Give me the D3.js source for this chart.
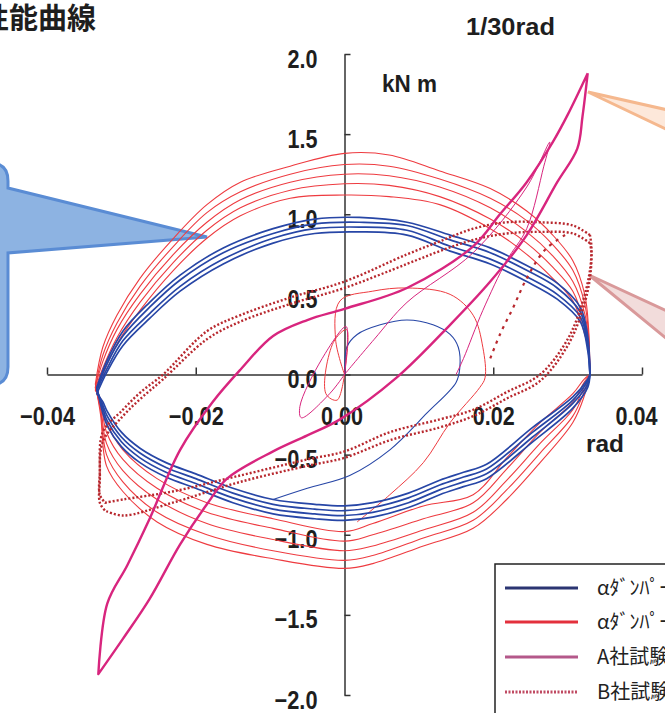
<!DOCTYPE html>
<html>
<head>
<meta charset="utf-8">
<script src="https://cdn.jsdelivr.net/npm/d3@7"></script>
<style>
body { margin: 0; background: #fff; }
svg { display: block; }
.lbl { font-family: "Liberation Sans", Arial, sans-serif; font-weight: bold; fill: #1e1e1e; }
.axis path, .axis line { stroke: #333; stroke-width: 1.5; }
</style>
</head>
<body>
<script>
// picture size
let W = 665, H = 713;

// tick values
let xTicks = [-0.04, -0.02, 0.00, 0.02, 0.04];
let yTicks = [-2.0, -1.5, -1.0, -0.5, 0.0, 0.5, 1.0, 1.5, 2.0];

// legend entries
let legendNames = ["αﾀﾞﾝﾊﾟｰ", "αﾀﾞﾝﾊﾟｰ", "A社試験体", "B社試験体"];

// --- αダンパー (blue) : branch x positions (rad) and moment per cycle (kN m)
let blueUpperX = [0.0330, 0.0327, 0.0317, 0.0286, 0.0245, 0.0196, 0.0142, 0.0084, 0.0020, -0.0040, -0.0096, -0.0163, -0.0221, -0.0262, -0.0298, -0.0320, -0.0333];
let blueLowerX = [-0.0333, -0.0325, -0.0319, -0.0300, -0.0275, -0.0240, -0.0200, -0.0150, -0.0096, -0.0040, 0.0000, 0.0038, 0.0086, 0.0128, 0.0160, 0.0191, 0.0253, 0.0307, 0.0327, 0.0330];
let blueUpperY = [
  [0.00, 0.24, 0.42, 0.57, 0.68, 0.79, 0.87, 0.95, 0.98, 0.97, 0.91, 0.79, 0.62, 0.45, 0.27, 0.08, -0.08],
  [0.00, 0.21, 0.39, 0.54, 0.65, 0.76, 0.84, 0.93, 0.95, 0.94, 0.88, 0.76, 0.59, 0.42, 0.24, 0.06, -0.09],
  [0.00, 0.18, 0.36, 0.50, 0.61, 0.72, 0.80, 0.90, 0.92, 0.91, 0.85, 0.72, 0.55, 0.38, 0.21, 0.03, -0.10],
  [0.00, 0.15, 0.33, 0.47, 0.58, 0.69, 0.77, 0.87, 0.89, 0.88, 0.82, 0.69, 0.52, 0.35, 0.18, 0.01, -0.12]
];
let blueLowerY = [
  [-0.08, -0.24, -0.32, -0.45, -0.55, -0.64, -0.71, -0.80, -0.87, -0.90, -0.91, -0.89, -0.83, -0.75, -0.70, -0.65, -0.42, -0.21, -0.08, 0.00],
  [-0.09, -0.21, -0.29, -0.42, -0.52, -0.61, -0.68, -0.77, -0.84, -0.87, -0.88, -0.86, -0.80, -0.72, -0.67, -0.62, -0.39, -0.18, -0.06, 0.00],
  [-0.10, -0.19, -0.26, -0.39, -0.49, -0.58, -0.65, -0.74, -0.81, -0.84, -0.85, -0.83, -0.77, -0.69, -0.64, -0.59, -0.36, -0.16, -0.04, 0.00],
  [-0.12, -0.17, -0.23, -0.36, -0.46, -0.55, -0.62, -0.71, -0.78, -0.81, -0.82, -0.80, -0.74, -0.66, -0.61, -0.56, -0.33, -0.14, -0.03, 0.00]
];
// first (thin) blue cycle from the origin
let blueFirstX = [0.0001, 0.0003, 0.0017, 0.0048, 0.0084, 0.0119, 0.0142, 0.0153, 0.0155, 0.0150, 0.0111, 0.0061, 0.0007, -0.0050, -0.0096];
let blueFirstY = [0.00, 0.17, 0.25, 0.31, 0.34, 0.31, 0.25, 0.17, 0.04, -0.05, -0.24, -0.47, -0.63, -0.71, -0.78];

// --- αダンパー (red)
let redUpperX = [0.0330, 0.0328, 0.0323, 0.0307, 0.0280, 0.0245, 0.0196, 0.0128, 0.0060, 0.0000, -0.0073, -0.0140, -0.0185, -0.0230, -0.0275, -0.0306, -0.0325, -0.0335];
let redLowerX = [-0.0335, -0.0328, -0.0320, -0.0298, -0.0252, -0.0185, -0.0096, 0.0000, 0.0038, 0.0106, 0.0173, 0.0218, 0.0263, 0.0307, 0.0322, 0.0330];
let redUpperY = [
  [0.00, 0.30, 0.50, 0.71, 0.87, 1.02, 1.16, 1.27, 1.37, 1.38, 1.30, 1.20, 1.06, 0.85, 0.60, 0.37, 0.17, -0.06],
  [0.00, 0.26, 0.44, 0.65, 0.81, 0.96, 1.10, 1.22, 1.30, 1.31, 1.25, 1.14, 1.01, 0.80, 0.55, 0.32, 0.12, -0.08],
  [0.00, 0.22, 0.38, 0.58, 0.74, 0.89, 1.04, 1.17, 1.24, 1.25, 1.20, 1.09, 0.95, 0.75, 0.50, 0.28, 0.08, -0.08],
  [0.00, 0.18, 0.31, 0.52, 0.67, 0.82, 0.97, 1.11, 1.18, 1.19, 1.15, 1.04, 0.90, 0.70, 0.45, 0.23, 0.04, -0.09],
  [0.00, 0.15, 0.25, 0.46, 0.60, 0.75, 0.91, 1.06, 1.11, 1.12, 1.10, 0.99, 0.85, 0.65, 0.40, 0.19, 0.00, -0.10]
];
let redLowerY = [
  [-0.06, -0.25, -0.57, -0.73, -0.92, -1.06, -1.15, -1.21, -1.18, -1.07, -0.96, -0.78, -0.55, -0.30, -0.14, 0.00],
  [-0.08, -0.22, -0.50, -0.67, -0.86, -1.00, -1.10, -1.16, -1.13, -1.02, -0.91, -0.72, -0.49, -0.26, -0.11, 0.00],
  [-0.08, -0.20, -0.43, -0.60, -0.78, -0.93, -1.03, -1.10, -1.07, -0.97, -0.86, -0.66, -0.43, -0.22, -0.08, 0.00],
  [-0.09, -0.17, -0.36, -0.53, -0.71, -0.86, -0.96, -1.04, -1.00, -0.90, -0.80, -0.59, -0.36, -0.17, -0.05, 0.00],
  [-0.10, -0.15, -0.30, -0.47, -0.65, -0.80, -0.90, -0.98, -0.93, -0.82, -0.75, -0.52, -0.30, -0.12, -0.03, 0.00]
];
let redFirstX = [0.0000, -0.0012, -0.0006, 0.0038, 0.0084, 0.0142, 0.0173, 0.0186, 0.0189, 0.0182, 0.0142, 0.0106, 0.0061, 0.0017];
let redFirstY = [0.00, 0.22, 0.46, 0.52, 0.54, 0.50, 0.37, 0.17, -0.02, -0.08, -0.30, -0.55, -0.75, -0.92];
let redSmallX = [0.0000, 0.0003, -0.0015, -0.0025, -0.0010, 0.0000];
let redSmallY = [0.00, 0.28, 0.20, -0.12, -0.16, 0.00];

// --- A社試験体 (magenta)
let aUpperX = [0.0327, 0.0300, 0.0280, 0.0245, 0.0209, 0.0173, 0.0084, 0.0000, -0.0050, -0.0096, -0.0140, -0.0177, -0.0221, -0.0262, -0.0292, -0.0319, -0.0331];
let aUpperY = [1.88, 1.62, 1.45, 1.20, 1.00, 0.80, 0.54, 0.41, 0.34, 0.24, 0.03, -0.17, -0.47, -0.90, -1.19, -1.43, -1.87];
let aLowerX = [-0.0331, -0.0298, -0.0262, -0.0221, -0.0185, -0.0158, -0.0096, -0.0050, -0.0006, 0.0070, 0.0142, 0.0196, 0.0245, 0.0286, 0.0313, 0.0320, 0.0327];
let aLowerY = [-1.87, -1.65, -1.40, -1.06, -0.81, -0.65, -0.48, -0.38, -0.28, -0.02, 0.31, 0.58, 0.87, 1.20, 1.41, 1.61, 1.88];
let aFirstX = [0.0000, 0.0040, 0.0084, 0.0173, 0.0245, 0.0276, 0.0268, 0.0245, 0.0218, 0.0186, 0.0160, 0.0150];
let aFirstY = [0.00, 0.22, 0.45, 0.76, 1.17, 1.45, 1.30, 0.91, 0.71, 0.40, 0.10, 0.00];
let aSmallX = [0.0000, 0.0004, 0.0002, -0.0030, -0.0060, -0.0058, -0.0020, 0.0000];
let aSmallY = [0.00, 0.22, 0.30, 0.10, -0.20, -0.27, -0.12, 0.00];

// --- B社試験体 (dotted)
let bUpperX = [0.0330, 0.0307, 0.0263, 0.0218, 0.0173, 0.0128, 0.0084, 0.0000, -0.0073, -0.0140, -0.0185, -0.0244, -0.0274, -0.0298, -0.0325, -0.0329, -0.0329, -0.0322];
let bLowerX = [-0.0322, -0.0298, -0.0231, -0.0140, -0.0050, 0.0000, 0.0061, 0.0128, 0.0173, 0.0218, 0.0263, 0.0300, 0.0320, 0.0330, 0.0332, 0.0330];
let bUpperY = [
  [0.87, 0.93, 0.95, 0.95, 0.91, 0.83, 0.75, 0.58, 0.48, 0.37, 0.27, 0.00, -0.11, -0.22, -0.36, -0.61, -0.75, -0.80],
  [0.82, 0.88, 0.89, 0.88, 0.84, 0.77, 0.69, 0.54, 0.44, 0.33, 0.22, -0.03, -0.15, -0.26, -0.42, -0.66, -0.80, -0.85]
];
let bLowerY = [
  [-0.80, -0.78, -0.73, -0.63, -0.53, -0.48, -0.36, -0.28, -0.22, -0.11, 0.00, 0.22, 0.45, 0.65, 0.80, 0.87],
  [-0.85, -0.88, -0.80, -0.67, -0.57, -0.52, -0.41, -0.33, -0.26, -0.15, -0.04, 0.18, 0.40, 0.60, 0.76, 0.82]
];
let bFirstX = [0.0196, 0.0209, 0.0227, 0.0245, 0.0270, 0.0300];
let bFirstY = [0.10, 0.25, 0.42, 0.60, 0.78, 0.88];

// colours
let cBlue = "#2746a6", cRed = "#ee3b40", cMag = "#d8257e", cDot = "#b8282e";
let legendColors = ["#2b3572", "#e3303c", "#b4588a", "#c04a62"];

// scales
let x = d3.scaleLinear().domain([-0.04, 0.04]).range([47, 642]);
let y = d3.scaleLinear().domain([-2, 2]).range([695, 54]);

let svg = d3.select("body").append("svg")
  .attr("width", W)
  .attr("height", H);

// helpers
let zip = (xs, ys) => xs.map((v, i) => [v, ys[i]]);
let line = d3.line()
  .x(d => x(d[0]))
  .y(d => y(d[1]))
  .curve(d3.curveCatmullRom.alpha(0.5));

function drawPath(pts, color, w, dash) {
  let p = svg.append("path")
    .attr("d", line(pts))
    .attr("fill", "none")
    .attr("stroke", color)
    .attr("stroke-width", w)
    .attr("stroke-linejoin", "round");
  if (dash) p.attr("stroke-dasharray", dash);
  return p;
}

// the tick font is narrow and tall: squeeze each label to its width in the picture
function labelWidth(s) {
  let w = 0;
  for (let ch of s) w += ch === "." ? 6 : (ch === "−" || ch === "-") ? 13 : 12;
  return w;
}

// callouts
svg.append("path")
  .attr("d", "M-40,163 H-10 Q8,163 8,181 V188 L207,237 L8,253 V367 Q8,385 -10,385 H-40 Z")
  .attr("fill", "#8db3e2").attr("stroke", "#5a8cd4").attr("stroke-width", 3);
svg.append("path")
  .attr("d", "M712,120 L588,92 L712,151")
  .attr("fill", "#fde8da").attr("stroke", "#f5b88e").attr("stroke-width", 3);
svg.append("path")
  .attr("d", "M712,332 L589,275 L712,376")
  .attr("fill", "#f2dcdb").attr("stroke", "#d9999a").attr("stroke-width", 3);

// axes
let xAxis = d3.axisBottom(x).tickValues(xTicks).tickFormat(d3.format(".2f"))
  .tickSizeInner(-7).tickSizeOuter(0).tickPadding(33);
let yAxis = d3.axisLeft(y).tickValues(yTicks).tickFormat(d3.format(".1f"))
  .tickSizeInner(-6).tickSizeOuter(0).tickPadding(27);

let gx = svg.append("g").attr("class", "axis")
  .attr("transform", "translate(0," + y(0) + ")")
  .call(xAxis);
let gy = svg.append("g").attr("class", "axis")
  .attr("transform", "translate(" + x(0) + ",0)")
  .call(yAxis);
[gx, gy].forEach(g => g.selectAll("text")
  .attr("class", "lbl")
  .style("font-size", "25px")
  .attr("fill", "#1e1e1e")
  .attr("lengthAdjust", "spacingAndGlyphs")
  .attr("textLength", function() { return labelWidth(this.textContent); }));
gy.selectAll("text").attr("dy", "0.52em");
// keep the last x label inside the picture
gx.selectAll("text").filter(d => d === 0.04).attr("dx", -6);
gx.selectAll("text").filter(d => d === 0).attr("dx", -3);

// red cycles
redUpperY.forEach((uy, k) => {
  drawPath(zip(redUpperX, uy).concat(zip(redLowerX, redLowerY[k])), cRed, 1.1);
});
drawPath(zip(redFirstX, redFirstY), cRed, 1);
drawPath(zip(redSmallX, redSmallY), cRed, 1);

// blue cycles
blueUpperY.forEach((uy, k) => {
  drawPath(zip(blueUpperX, uy).concat(zip(blueLowerX, blueLowerY[k])), cBlue, 1.7);
});
drawPath(zip(blueFirstX, blueFirstY), cBlue, 1.1);

// B社 dotted cycles
bUpperY.forEach((uy, k) => {
  drawPath(zip(bUpperX, uy).concat(zip(bLowerX, bLowerY[k])), cDot, 2.4, "2,2");
});
drawPath(zip(bFirstX, bFirstY), cDot, 2.2, "3,5");

// A社 magenta
drawPath(zip(aUpperX, aUpperY).concat(zip(aLowerX, aLowerY)), cMag, 2.4);
drawPath(zip(aFirstX, aFirstY), cMag, 1);
drawPath(zip(aSmallX, aSmallY), cMag, 1);

// texts
svg.append("text")
  .attr("x", -20).attr("y", 29)
  .style("font-family", "'Noto Sans CJK JP', sans-serif")
  .style("font-weight", "bold").style("font-size", "29px")
  .attr("fill", "#1e1e1e")
  .text("性能曲線");
svg.append("text").attr("class", "lbl")
  .attr("x", 466).attr("y", 35).style("font-size", "24px")
  .attr("lengthAdjust", "spacingAndGlyphs").attr("textLength", 89)
  .text("1/30rad");
svg.append("text").attr("class", "lbl")
  .attr("x", 382).attr("y", 92).style("font-size", "24px")
  .attr("lengthAdjust", "spacingAndGlyphs").attr("textLength", 55)
  .text("kN m");
svg.append("text").attr("class", "lbl")
  .attr("x", 586).attr("y", 452).style("font-size", "24px")
  .attr("lengthAdjust", "spacingAndGlyphs").attr("textLength", 38)
  .text("rad");

// legend
let lg = svg.append("g");
lg.append("rect")
  .attr("x", 495).attr("y", 564).attr("width", 220).attr("height", 200)
  .attr("fill", "#fff").attr("stroke", "#222").attr("stroke-width", 1.5);
let rowY = [588, 622, 657, 692];
legendNames.forEach((name, i) => {
  lg.append("line")
    .attr("x1", 505).attr("x2", 578)
    .attr("y1", rowY[i]).attr("y2", rowY[i])
    .attr("stroke", legendColors[i])
    .attr("stroke-width", 3)
    .attr("stroke-dasharray", i === 3 ? "2,1.5" : null);
  lg.append("text")
    .attr("x", 597).attr("y", rowY[i] + 7)
    .style("font-family", "'Noto Sans CJK JP', sans-serif")
    .style("font-size", "20px")
    .attr("fill", "#222")
    .text(name);
});
</script>
</body>
</html>
